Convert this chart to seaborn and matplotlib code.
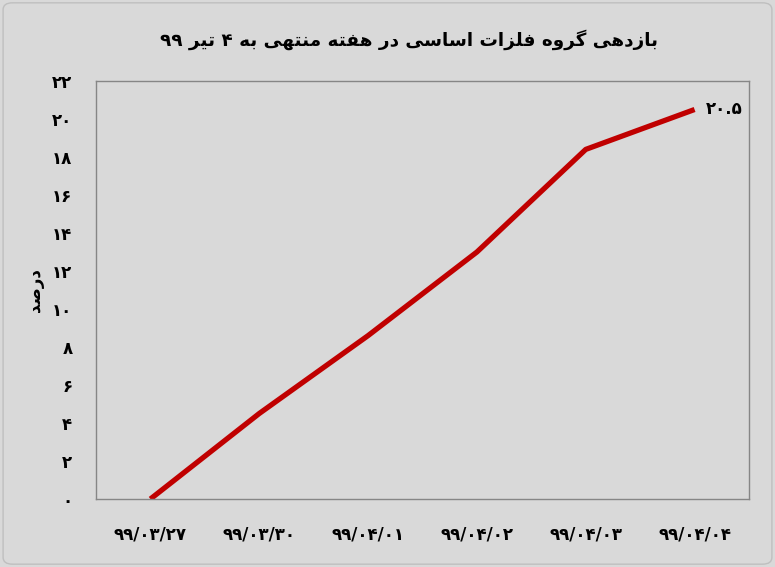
import matplotlib
matplotlib.use("Agg")
import matplotlib.pyplot as plt
import seaborn as sns
import pandas as pd
from matplotlib.patches import FancyBboxPatch

# ---------------- data ----------------
dates = ["۹۹/۰۳/۲۷", "۹۹/۰۳/۳۰", "۹۹/۰۴/۰۱", "۹۹/۰۴/۰۲", "۹۹/۰۴/۰۳", "۹۹/۰۴/۰۴"]
returns = [0.0, 4.5, 8.6, 13.0, 18.4, 20.5]
y_ticks = [0, 2, 4, 6, 8, 10, 12, 14, 16, 18, 20, 22]
title_text = "بازدهی گروه فلزات اساسی در هفته منتهی به ۴ تیر ۹۹"
ylabel_text = "درصد"
last_label = "۲۰.۵"

# ---------------- minimal Arabic/Persian shaping ----------------
FORMS = {
    "\u0627": ("\uFE8D", "\uFE8E", None, None),
    "\u0628": ("\uFE8F", "\uFE90", "\uFE91", "\uFE92"),
    "\u062A": ("\uFE95", "\uFE96", "\uFE97", "\uFE98"),
    "\u062B": ("\uFE99", "\uFE9A", "\uFE9B", "\uFE9C"),
    "\u062C": ("\uFE9D", "\uFE9E", "\uFE9F", "\uFEA0"),
    "\u062D": ("\uFEA1", "\uFEA2", "\uFEA3", "\uFEA4"),
    "\u062E": ("\uFEA5", "\uFEA6", "\uFEA7", "\uFEA8"),
    "\u062F": ("\uFEA9", "\uFEAA", None, None),
    "\u0630": ("\uFEAB", "\uFEAC", None, None),
    "\u0631": ("\uFEAD", "\uFEAE", None, None),
    "\u0632": ("\uFEAF", "\uFEB0", None, None),
    "\u0698": ("\uFB8A", "\uFB8B", None, None),
    "\u0633": ("\uFEB1", "\uFEB2", "\uFEB3", "\uFEB4"),
    "\u0634": ("\uFEB5", "\uFEB6", "\uFEB7", "\uFEB8"),
    "\u0635": ("\uFEB9", "\uFEBA", "\uFEBB", "\uFEBC"),
    "\u0636": ("\uFEBD", "\uFEBE", "\uFEBF", "\uFEC0"),
    "\u0637": ("\uFEC1", "\uFEC2", "\uFEC3", "\uFEC4"),
    "\u0638": ("\uFEC5", "\uFEC6", "\uFEC7", "\uFEC8"),
    "\u0639": ("\uFEC9", "\uFECA", "\uFECB", "\uFECC"),
    "\u063A": ("\uFECD", "\uFECE", "\uFECF", "\uFED0"),
    "\u0641": ("\uFED1", "\uFED2", "\uFED3", "\uFED4"),
    "\u0642": ("\uFED5", "\uFED6", "\uFED7", "\uFED8"),
    "\u06A9": ("\uFB8E", "\uFB8F", "\uFB90", "\uFB91"),
    "\u06AF": ("\uFB92", "\uFB93", "\uFB94", "\uFB95"),
    "\u0644": ("\uFEDD", "\uFEDE", "\uFEDF", "\uFEE0"),
    "\u0645": ("\uFEE1", "\uFEE2", "\uFEE3", "\uFEE4"),
    "\u0646": ("\uFEE5", "\uFEE6", "\uFEE7", "\uFEE8"),
    "\u0647": ("\uFEE9", "\uFEEA", "\uFEEB", "\uFEEC"),
    "\u0648": ("\uFEED", "\uFEEE", None, None),
    "\u06CC": ("\uFBFC", "\uFBFD", "\uFBFE", "\uFBFF"),
    "\u067E": ("\uFB56", "\uFB57", "\uFB58", "\uFB59"),
    "\u0686": ("\uFB7A", "\uFB7B", "\uFB7C", "\uFB7D"),
}


def shape(text):
    chars = list(text)
    out = []
    for i, c in enumerate(chars):
        if c not in FORMS:
            out.append(c)
            continue
        iso, fin, ini, med = FORMS[c]
        prev = chars[i - 1] if i > 0 else None
        nxt = chars[i + 1] if i + 1 < len(chars) else None
        join_prev = prev in FORMS and FORMS[prev][2] is not None
        join_next = nxt in FORMS and ini is not None
        if join_prev and join_next:
            out.append(med)
        elif join_prev:
            out.append(fin)
        elif join_next:
            out.append(ini)
        else:
            out.append(iso)
    # visual order: reverse, keeping digit runs LTR
    s = "".join(out)
    runs, cur, cur_digit = [], "", None
    for c in s:
        d = c.isdigit() or c in "./"
        if cur and d != cur_digit:
            runs.append(cur)
            cur = ""
        cur += c
        cur_digit = d
    if cur:
        runs.append(cur)
    return "".join(r if (r[0].isdigit()) else r[::-1] for r in reversed(runs))


def fa_num(n):
    return str(n).translate(str.maketrans("0123456789", "۰۱۲۳۴۵۶۷۸۹"))


# ---------------- plot ----------------
sns.set_theme(style="white")
plt.rcParams["font.family"] = ["DejaVu Sans"]
plt.rcParams["text.color"] = "black"
plt.rcParams["xtick.color"] = "black"
plt.rcParams["ytick.color"] = "black"

bg = "#d9d9d9"
fig = plt.figure(figsize=(7.75, 5.67), dpi=100, facecolor=bg)
ax = fig.add_axes([96 / 775, 1 - 499 / 567, (749 - 96) / 775, (499 - 81) / 567])
ax.set_facecolor(bg)

df = pd.DataFrame({"date": dates, "ret": returns, "pos": range(len(dates))})
sns.lineplot(data=df, x="pos", y="ret", ax=ax, color="#c00000", linewidth=3.8,
             solid_capstyle="butt", legend=False)

ax.set_xlim(-0.5, len(dates) - 0.5)
ax.set_ylim(0, 22)
ax.set_xticks(range(len(dates)))
ax.set_xticklabels(dates, fontsize=12, fontweight="bold", color="black")
ax.set_yticks(y_ticks)
ax.set_yticklabels([fa_num(v) for v in y_ticks], fontsize=12, fontweight="bold", color="black")
ax.tick_params(axis="y", length=0, pad=17)
ax.tick_params(axis="x", length=0, pad=19)
ax.set_xlabel("")
ax.set_ylabel("")
for sp in ax.spines.values():
    sp.set_color("#868686")
    sp.set_linewidth(1.0)

fig.text(35 / 775, 1 - 290 / 567, shape(ylabel_text), rotation=90, fontsize=12,
         fontweight="bold", ha="center", va="center", color="black")

ax.annotate(last_label, xy=(len(dates) - 1, returns[-1]), xytext=(8, 0),
            textcoords="offset points", fontsize=12, fontweight="bold",
            ha="left", va="center", color="black")

fig.text(409 / 775, 1 - 40 / 567, shape(title_text), fontsize=13.2,
         fontweight="bold", ha="center", va="center", color="black")

border = FancyBboxPatch((0.004, 0.005), 0.992, 0.99, boxstyle="round,pad=0,rounding_size=0.012",
                        transform=fig.transFigure, facecolor="none",
                        edgecolor="#bfbfbf", linewidth=1.0)
fig.patches.append(border)

fig.savefig("out.png", dpi=100, facecolor=bg)
